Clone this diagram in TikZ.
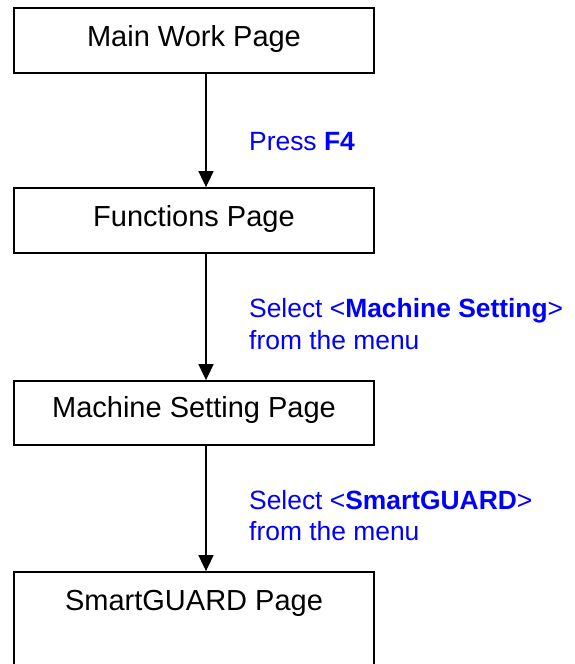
\documentclass[tikz,border=0pt]{standalone}
\usepackage{fontspec}
\setmainfont{Liberation Sans}
\usetikzlibrary{arrows.meta}
\definecolor{lblblue}{RGB}{0,0,255}
\tikzset{
  pagebox/.style={draw=black, line width=1.8pt, inner sep=0pt, minimum width=360pt,
    anchor=base, font=\fontsize{29}{34}\selectfont, text height=38pt, text depth=27pt},
  flowarrow/.style={line width=1.8pt, -{Triangle[width=15pt,length=16pt]}},
  steplabel/.style={anchor=base west, inner sep=0pt, text=lblblue, font=\fontsize{26.4}{32}\selectfont}
}
\begin{document}
\begin{tikzpicture}[x=1pt,y=-1pt]
\clip (0,0) rectangle (575,664);
\fill[white] (0,0) rectangle (575,664);
\node[pagebox] (b1) at (194,46) {Main Work Page};
\node[pagebox] (b2) at (194,226) {Functions Page};
\node[pagebox, text height=36.5pt, text depth=27.5pt] (b3) at (194,417.5) {Machine Setting Page};
\node[pagebox, text height=38.5pt, text depth=100pt] (b4) at (194,610.5) {SmartGUARD Page};
\draw[flowarrow] ([xshift=12pt]b1.south) -- ([xshift=12pt]b2.north);
\draw[flowarrow] ([xshift=12pt]b2.south) -- ([xshift=12pt]b3.north);
\draw[flowarrow] ([xshift=12pt]b3.south) -- ([xshift=12pt]b4.north);
\node[steplabel] (l1) at (249,150.5) {Press \textbf{F4}};
\node[steplabel] (l2a) at (249,317) {Select <\textbf{Machine Setting}>};
\node[steplabel] (l2b) at (249,349.5) {from the menu};
\node[steplabel] (l3a) at (249,509) {Select <\textbf{SmartGUARD}>};
\node[steplabel] (l3b) at (249,540.5) {from the menu};
\end{tikzpicture}
\end{document}
